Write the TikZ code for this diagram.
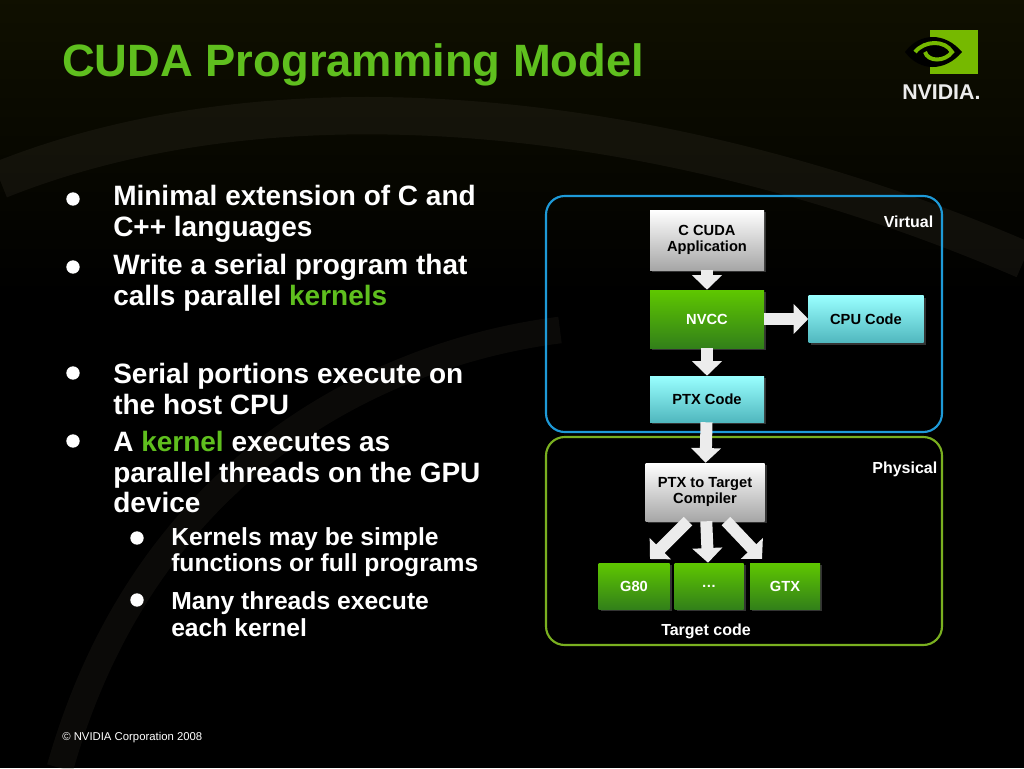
\documentclass[tikz,border=0pt]{standalone}
\usepackage{fontspec}
\setmainfont{Liberation Sans}
\usetikzlibrary{arrows.meta,shadows}
\definecolor{nvg}{HTML}{76B900}
\definecolor{titleg}{HTML}{5FBF1E}
\definecolor{boxg}{HTML}{3FA020}
\definecolor{cyanb}{HTML}{5FD8E0}
\definecolor{greyb}{HTML}{D0D0D0}
\definecolor{bluef}{HTML}{1E9AD8}
\definecolor{greenf}{HTML}{7AB020}
\tikzset{
 blk/.style={rectangle,minimum width=#1,minimum height=36,font=\bfseries\fontsize{11}{12.5}\selectfont,align=center,inner sep=1pt,drop shadow={opacity=0.4,shadow xshift=1.5pt,shadow yshift=-1.5pt}},
 grey/.style={blk=85.5,top color=white,bottom color=greyb!80!black,text=black},
 green/.style={blk=85.5,top color=nvg!80!green,bottom color=boxg!80!black,text=white},
 cyan/.style={blk=85.5,top color=cyan!40!white,bottom color=cyanb!85!black,text=black},
 fat/.style={line width=9,draw=white!85!gray,-{Triangle[width=22,length=11]}},
 frame/.style={rounded corners=14,line width=1.6},
 lbl/.style={font=\bfseries\fontsize{12}{14}\selectfont,text=white},
 bul/.style={anchor=west,text=white,font=\bfseries\fontsize{21}{23.2}\selectfont,align=left,inner sep=0},
 sbul/.style={anchor=west,text=white,font=\bfseries\fontsize{18.5}{20}\selectfont,align=left,inner sep=0},
 dot/.style={circle,fill=white,minimum size=10,inner sep=0}
}
\begin{document}
\begin{tikzpicture}[x=0.75pt,y=-0.75pt]
\useasboundingbox (0,0) rectangle (1024,768);
\fill[black] (0,0) rectangle (1024,768);
\shade[top color=black!75!olive,bottom color=black,opacity=0.5] (0,0) rectangle (1024,300);
\draw[line width=28,black!80!olive,opacity=0.25] (0,180) .. controls (300,60) and (700,120) .. (1024,260);
\draw[line width=20,black!80!olive,opacity=0.2] (60,768) .. controls (150,450) and (400,350) .. (560,330);
% title
\node[anchor=west,text=titleg,font=\bfseries\fontsize{34}{38}\selectfont,inner sep=0] (title) at (62,65) {CUDA Programming Model};
% logo
\fill[nvg] (930,30) rectangle (978,74);
\fill[black] (905,52) .. controls (920,32) and (945,32) .. (962,52) .. controls (945,72) and (920,72) .. (905,52) -- cycle;
\draw[nvg,line width=3] (915,52) .. controls (925,40) and (945,40) .. (952,52) .. controls (945,62) and (928,62) .. (925,52);
\node[anchor=west,text=white!85!gray,font=\bfseries\fontsize{16}{18}\selectfont,inner sep=0] (logo) at (902,92) {NVIDIA.};
% bullets
\node[dot] (d1) at (73,199) {};
\node[bul] (b1) at (113,214) {Minimal extension of C and\\C++ languages};
\node[dot] (d2) at (73,267) {};
\node[bul] (b2) at (113,283) {Write a serial program that\\calls parallel \textcolor{titleg}{kernels}};
\node[dot] (d3) at (73,373) {};
\node[bul] (b3) at (113,389) {Serial portions execute on\\the host CPU};
\node[dot] (d4) at (73,441) {};
\node[bul] (b4) at (113,472) {A \textcolor{titleg}{kernel} executes as\\parallel threads on the GPU\\device};
\node[dot] (d5) at (137,538) {};
\node[sbul] (b5) at (171,552) {Kernels may be simple\\functions or full programs};
\node[dot] (d6) at (137,600) {};
\node[sbul] (b6) at (171,614) {Many threads execute\\each kernel};
% frames
\draw[frame,bluef] (546,196) rectangle (942,432);
\draw[frame,greenf] (546,437) rectangle (942,645);
\node[lbl,anchor=east] (virt) at (938,222) {Virtual};
\node[lbl,anchor=east] (phys) at (942,469) {Physical};
\node[lbl] (tc) at (706,631) {Target code};
% boxes
\node[grey,minimum height=60*0.75] (app) at (707,240) {C CUDA\\Application};
\node[green,minimum height=58*0.75] (nvcc) at (707,319) {NVCC};
\node[cyan,minimum width=115*0.75,minimum height=47*0.75] (cpu) at (866,319) {CPU Code};
\node[cyan,minimum height=46*0.75] (ptx) at (707,399) {PTX Code};
\node[grey,minimum width=119*0.75,minimum height=58*0.75] (comp) at (705,492) {PTX to Target\\Compiler};
\node[green,minimum width=71*0.75,minimum height=46*0.75] (g80) at (634,586) {G80};
\node[green,minimum width=69*0.75,minimum height=46*0.75] (dots) at (709,586) {\dots};
\node[green,minimum width=70*0.75,minimum height=46*0.75] (gtx) at (785,586) {GTX};
% arrows
\draw[fat] (app) -- (nvcc);
\draw[fat] (nvcc) -- (cpu);
\draw[fat] (nvcc) -- (ptx);
\draw[fat] (ptx) -- (comp);
\coordinate (c1) at (688,521);
\coordinate (c2) at (726,521);
\coordinate (e1) at (650,559);
\coordinate (e2) at (762,559);
\draw[fat] (c1) -- (e1);
\draw[fat] (comp) -- (dots);
\draw[fat] (c2) -- (e2);
% footer
\node[anchor=west,text=white,font=\fontsize{8.5}{10}\selectfont,inner sep=0] (foot) at (62,738) {© NVIDIA Corporation 2008};
\end{tikzpicture}
\end{document}
